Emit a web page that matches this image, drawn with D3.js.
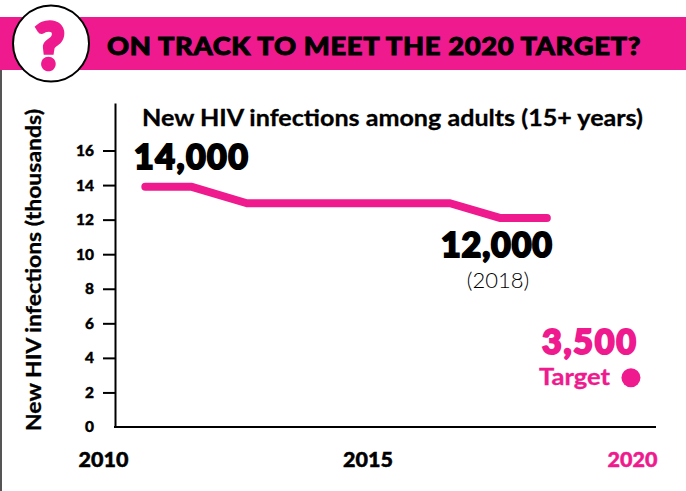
<!DOCTYPE html>
<html>
<head>
<meta charset="utf-8">
<script src="https://cdn.jsdelivr.net/npm/d3@7"></script>
<style>
  html, body { margin: 0; padding: 0; background: #fff; }
  svg { display: block; }
  text { font-family: Lato, "Open Sans", sans-serif; }
  .axis path, .axis line { stroke: #000; stroke-width: 2; }
  .axis text { font-family: Lato, sans-serif; font-weight: 900; }
</style>
</head>
<body>
<div id="chart"></div>
<script>
const pink = "#ee1a8e";

const lineYears = [2010.8, 2011.68, 2012.72, 2016.56, 2017.5, 2018.39];
const lineValues = [13.9, 13.9, 12.95, 12.95, 12.1, 12.1];
const targetYear = [2019.98];
const targetValue = [2.85];
const yTicks = [0, 2, 4, 6, 8, 10, 12, 14, 16];
const xLabels = [2010, 2015, 2020];

const width = 686, height = 491;

const svg = d3.select("#chart")
  .append("svg")
  .attr("width", width)
  .attr("height", height)
  .attr("viewBox", "0 0 " + width + " " + height);

const x = d3.scaleLinear().domain([2010, 2020]).range([103, 632]);
const y = d3.scaleLinear().domain([0, 18.75]).range([427, 103]);

// left edge and title band
svg.append("rect").attr("x", 0).attr("y", 70).attr("width", 2).attr("height", 421).attr("fill", "#555");
svg.append("rect").attr("x", 0).attr("y", 17).attr("width", width).attr("height", 53).attr("fill", pink);
svg.append("circle")
  .attr("cx", 51).attr("cy", 43.5).attr("r", 38)
  .attr("fill", "#fff").attr("stroke", "#000").attr("stroke-width", 2);
svg.append("text")
  .attr("x", 50).attr("y", 69)
  .attr("text-anchor", "middle")
  .attr("font-size", 62).attr("font-weight", 900)
  .attr("fill", pink).attr("stroke", pink).attr("stroke-width", 4.5)
  .text("?");
svg.append("text")
  .attr("x", 107).attr("y", 55)
  .attr("font-size", 24.5).attr("font-weight", 900)
  .attr("letter-spacing", 0.6)
  .attr("textLength", 534).attr("lengthAdjust", "spacingAndGlyphs")
  .attr("fill", "#000").attr("stroke", "#000").attr("stroke-width", 0.9)
  .text("ON TRACK TO MEET THE 2020 TARGET?");

// y axis
const yAxis = svg.append("g")
  .attr("class", "axis")
  .attr("transform", "translate(115,0)")
  .call(d3.axisLeft(y).tickValues(yTicks).tickSize(12).tickSizeOuter(0).tickPadding(9).tickFormat(d3.format("d")));
yAxis.selectAll("text")
  .attr("font-size", 15.5)
  .attr("fill", "#000").attr("stroke", "#000").attr("stroke-width", 0.4);
yAxis.selectAll(".tick").filter(d => d === 0).select("line").remove();

// x axis, labels only
const xAxis = svg.append("g")
  .attr("class", "axis")
  .attr("transform", "translate(0,427)")
  .call(d3.axisBottom(x).tickValues(xLabels).tickSize(0).tickPadding(25).tickFormat(d3.format("d")));
xAxis.select(".domain").remove();
xAxis.selectAll("text")
  .attr("font-size", 21.5)
  .attr("fill", d => d === 2020 ? pink : "#000")
  .attr("stroke", d => d === 2020 ? pink : "#000")
  .attr("stroke-width", 0.5);
svg.append("line").attr("x1", 114).attr("x2", 656).attr("y1", 427).attr("y2", 427)
  .attr("stroke", "#000").attr("stroke-width", 2);

// y title
svg.append("text")
  .attr("transform", "translate(41,431) rotate(-90)")
  .attr("font-size", 20).attr("font-weight", 700)
  .attr("textLength", 322).attr("lengthAdjust", "spacingAndGlyphs")
  .attr("fill", "#000").attr("stroke", "#000").attr("stroke-width", 0.3)
  .text("New HIV infections (thousands)");

// chart title
svg.append("text")
  .attr("x", 142).attr("y", 126)
  .attr("font-size", 23).attr("font-weight", 700)
  .attr("textLength", 501).attr("lengthAdjust", "spacingAndGlyphs")
  .attr("fill", "#000").attr("stroke", "#000").attr("stroke-width", 0.3)
  .text("New HIV infections among adults (15+ years)");

// the line
const line = d3.line()
  .x(d => x(d[0]))
  .y(d => y(d[1]));
svg.append("path")
  .datum(d3.zip(lineYears, lineValues))
  .attr("fill", "none")
  .attr("stroke", pink)
  .attr("stroke-width", 8)
  .attr("stroke-linecap", "round")
  .attr("stroke-linejoin", "round")
  .attr("d", line);

// target point
svg.selectAll(".target")
  .data(d3.zip(targetYear, targetValue))
  .join("circle")
  .attr("class", "target")
  .attr("cx", d => x(d[0]))
  .attr("cy", d => y(d[1]))
  .attr("r", 9.5)
  .attr("fill", pink);

// callouts
function big(tx, ty, w, fill, label) {
  svg.append("text")
    .attr("x", tx).attr("y", ty)
    .attr("font-size", 34).attr("font-weight", 900)
    .attr("textLength", w).attr("lengthAdjust", "spacing")
    .attr("fill", fill).attr("stroke", fill).attr("stroke-width", 2)
    .text(label);
}
big(134, 169, 114, "#000", "14,000");
big(441, 257, 111, "#000", "12,000");
big(542, 354, 94, pink, "3,500");

svg.append("text")
  .attr("x", 498).attr("y", 288)
  .attr("text-anchor", "middle")
  .attr("font-size", 22).attr("font-weight", 300)
  .attr("fill", "#000")
  .text("(2018)");

svg.append("text")
  .attr("x", 539).attr("y", 385)
  .attr("font-size", 22).attr("font-weight", 700)
  .attr("textLength", 71).attr("lengthAdjust", "spacingAndGlyphs")
  .attr("fill", pink).attr("stroke", pink).attr("stroke-width", 0.3)
  .text("Target");
</script>
</body>
</html>
